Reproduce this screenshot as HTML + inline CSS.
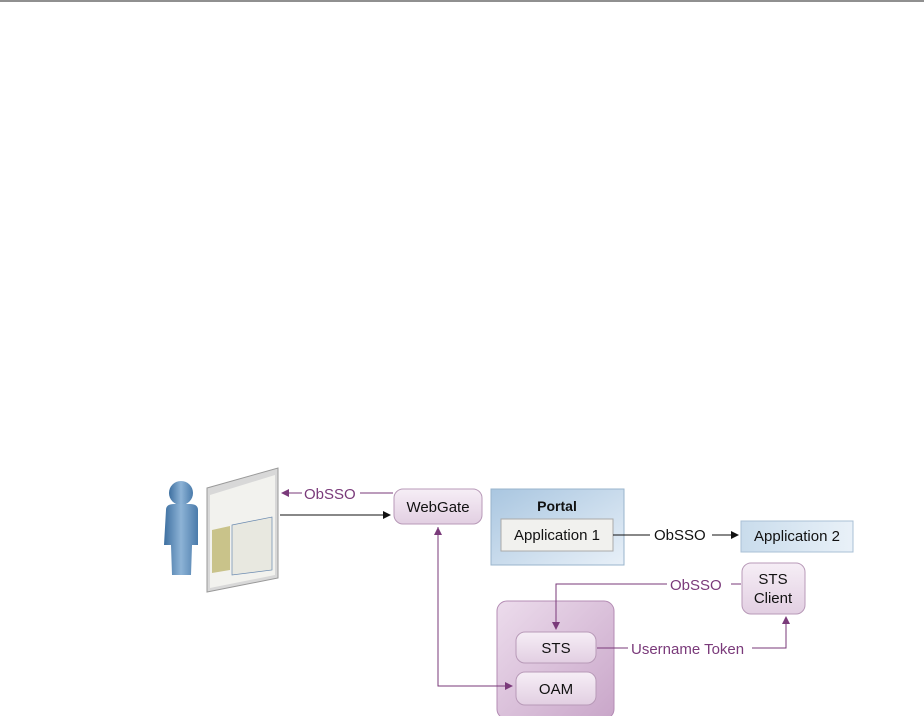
<!DOCTYPE html>
<html><head><style>
body{margin:0;width:924px;height:716px;background:#fff;overflow:hidden;font-family:"Liberation Sans",sans-serif;}
</style></head><body>
<svg width="924" height="716" viewBox="0 0 924 716" xmlns="http://www.w3.org/2000/svg" font-family="Liberation Sans, sans-serif">
<defs>
<linearGradient id="pb" x1="0" y1="0" x2="1" y2="1"><stop offset="0" stop-color="#a9c6e0"/><stop offset="1" stop-color="#e8f0f8"/></linearGradient>
<linearGradient id="pp" x1="0" y1="0" x2="0" y2="1"><stop offset="0" stop-color="#f6eef6"/><stop offset="1" stop-color="#e2cfe2"/></linearGradient>
<linearGradient id="pc" x1="0" y1="0" x2="1" y2="1"><stop offset="0" stop-color="#ecdcec"/><stop offset="1" stop-color="#c9a6c9"/></linearGradient>
<linearGradient id="ab" x1="0" y1="0" x2="1" y2="0"><stop offset="0" stop-color="#c9dcec"/><stop offset="1" stop-color="#e9f1f8"/></linearGradient>
<linearGradient id="man" x1="0" y1="0" x2="1" y2="0"><stop offset="0" stop-color="#3d6fa0"/><stop offset="0.5" stop-color="#8db3d6"/><stop offset="1" stop-color="#4a7bab"/></linearGradient>
<marker id="ap" markerWidth="8" markerHeight="8" refX="7" refY="4" orient="auto" markerUnits="userSpaceOnUse"><path d="M0,0 L8,4 L0,8 z" fill="#7a3a7a"/></marker>
<marker id="ak" markerWidth="8" markerHeight="8" refX="7" refY="4" orient="auto" markerUnits="userSpaceOnUse"><path d="M0,0 L8,4 L0,8 z" fill="#111"/></marker>
</defs>
<line x1="0" y1="1" x2="924" y2="1" stroke="#222" stroke-width="1"/>
<!-- person -->
<circle cx="181" cy="493" r="12" fill="url(#man)"/>
<path d="M166,510 Q166,504 174,504 L190,504 Q198,504 198,510 L198,545 L192,545 L191,575 L172,575 L171,545 L164,545 Z" fill="url(#man)"/>
<!-- browser -->
<polygon points="207,488 278,468 278,578 207,592" fill="#d8d8d8" stroke="#999"/>
<polygon points="210,495 275,475 275,575 210,588" fill="#f2f2ee"/>
<polygon points="212,530 230,526 230,570 212,573" fill="#c9c38a"/>
<polygon points="232,525 272,517 272,570 232,575" fill="#e8e8e0" stroke="#6a8ab0" stroke-width="0.7"/>
<!-- arrows left -->
<line x1="393" y1="493" x2="360" y2="493" stroke="#7a3a7a"/>
<line x1="302" y1="493" x2="282" y2="493" stroke="#7a3a7a" marker-end="url(#ap)"/>
<text x="304" y="499" font-size="15" fill="#7a3a7a">ObSSO</text>
<line x1="280" y1="515" x2="390" y2="515" stroke="#111" marker-end="url(#ak)"/>
<!-- WebGate -->
<rect x="394" y="489" width="88" height="35" rx="9" fill="url(#pp)" stroke="#b89ab8"/>
<text x="438" y="512" font-size="15" text-anchor="middle" fill="#111">WebGate</text>
<!-- Portal -->
<rect x="491" y="489" width="133" height="76" fill="url(#pb)" stroke="#9ab4cc"/>
<text x="557" y="511" font-size="14" font-weight="bold" text-anchor="middle" fill="#111">Portal</text>
<rect x="501" y="519" width="112" height="32" fill="#f1f1ee" stroke="#aaa"/>
<text x="557" y="540" font-size="15" text-anchor="middle" fill="#111">Application 1</text>
<line x1="613" y1="535" x2="650" y2="535" stroke="#111"/>
<text x="654" y="540" font-size="15" fill="#111">ObSSO</text>
<line x1="712" y1="535" x2="738" y2="535" stroke="#111" marker-end="url(#ak)"/>
<rect x="741" y="521" width="112" height="31" fill="url(#ab)" stroke="#aac0d6"/>
<text x="797" y="541" font-size="15" text-anchor="middle" fill="#111">Application 2</text>
<!-- STS Client -->
<rect x="742" y="563" width="63" height="51" rx="9" fill="url(#pp)" stroke="#b89ab8"/>
<text x="773" y="584" font-size="15" text-anchor="middle" fill="#111">STS</text>
<text x="773" y="603" font-size="15" text-anchor="middle" fill="#111">Client</text>
<!-- OAM container -->
<rect x="497" y="601" width="117" height="118" rx="10" fill="url(#pc)" stroke="#b48cb4"/>
<rect x="516" y="632" width="80" height="31" rx="9" fill="url(#pp)" stroke="#b89ab8"/>
<text x="556" y="653" font-size="15" text-anchor="middle" fill="#111">STS</text>
<rect x="516" y="672" width="80" height="33" rx="9" fill="url(#pp)" stroke="#b89ab8"/>
<text x="556" y="694" font-size="15" text-anchor="middle" fill="#111">OAM</text>
<!-- ObSSO STS Client to STS -->
<line x1="741" y1="584" x2="731" y2="584" stroke="#7a3a7a"/>
<text x="670" y="590" font-size="15" fill="#7a3a7a">ObSSO</text>
<polyline points="667,584 556,584 556,629" fill="none" stroke="#7a3a7a" marker-end="url(#ap)"/>
<!-- Username token -->
<line x1="597" y1="648" x2="628" y2="648" stroke="#7a3a7a"/>
<text x="631" y="654" font-size="15" fill="#7a3a7a">Username Token</text>
<polyline points="752,648 786,648 786,617" fill="none" stroke="#7a3a7a" marker-end="url(#ap)"/>
<!-- WebGate to OAM -->
<polyline points="438,527 438,686 512,686" fill="none" stroke="#7a3a7a" marker-end="url(#ap)"/>
<line x1="438" y1="560" x2="438" y2="528" stroke="#7a3a7a" marker-end="url(#ap)"/>
</svg>
</body></html>
